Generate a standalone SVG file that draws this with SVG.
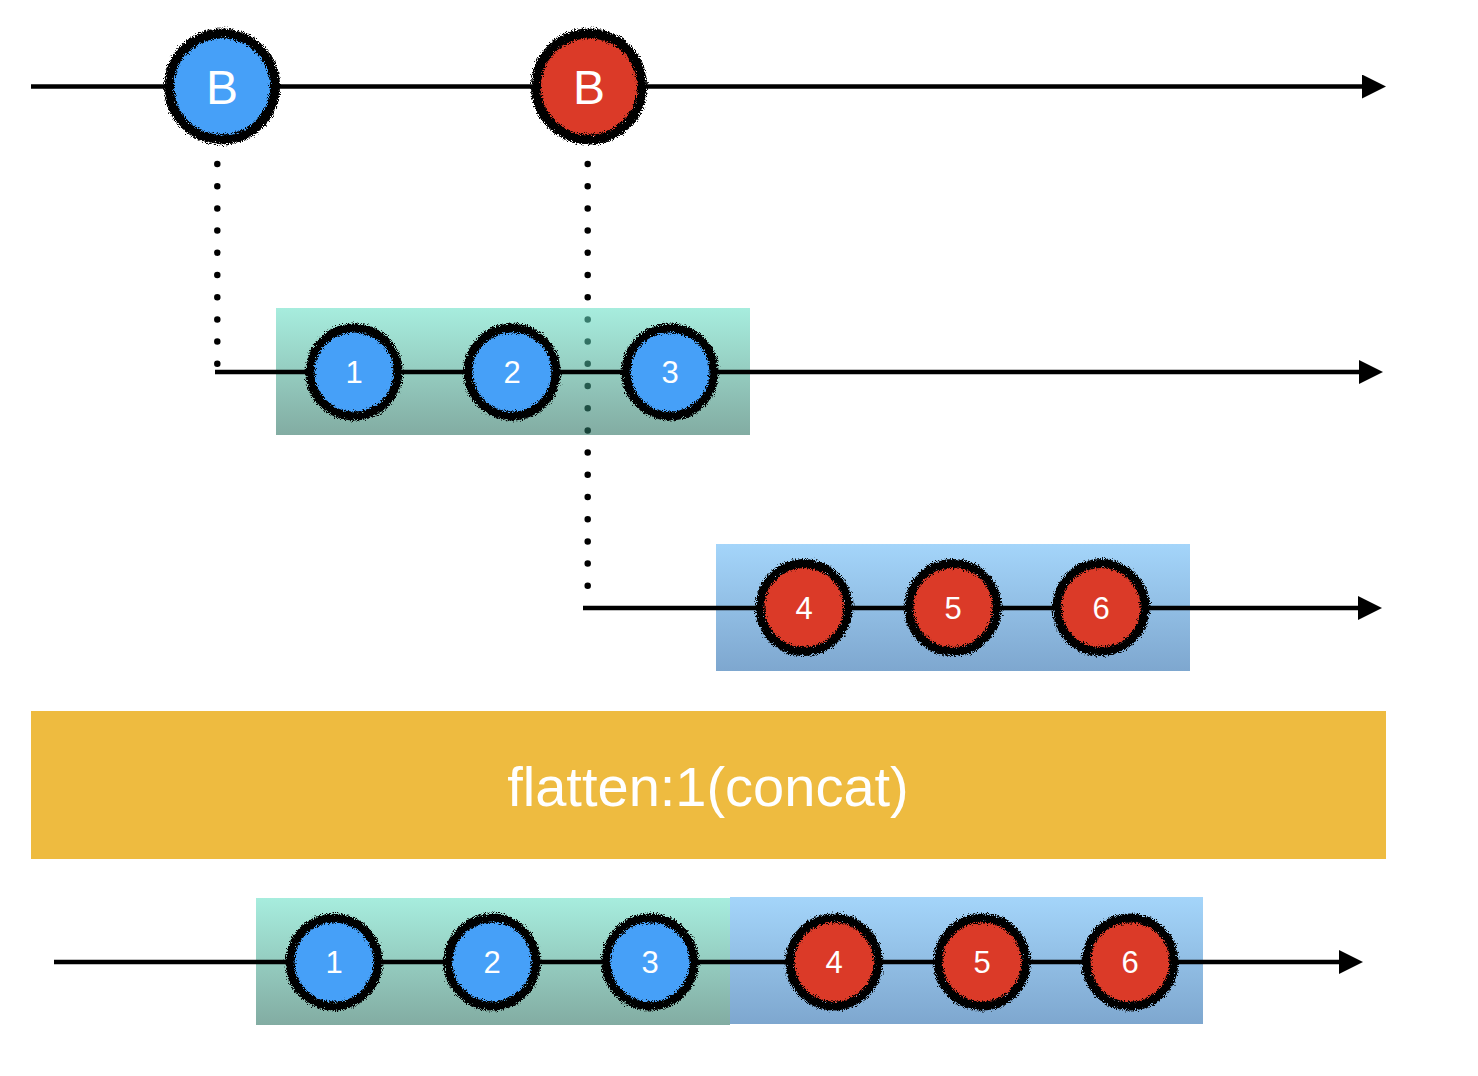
<svg xmlns="http://www.w3.org/2000/svg" width="1478" height="1076" viewBox="0 0 1478 1076">
<defs>
  <linearGradient id="gGreen" x1="0" y1="0" x2="0" y2="1">
    <stop offset="0" stop-color="#67e0c6"/>
    <stop offset="1" stop-color="#28705f"/>
  </linearGradient>
  <linearGradient id="gBlue" x1="0" y1="0" x2="0" y2="1">
    <stop offset="0" stop-color="#a4d5fa"/>
    <stop offset="1" stop-color="#7ea7cf"/>
  </linearGradient>
  <filter id="rough" x="-20%" y="-20%" width="140%" height="140%">
    <feTurbulence type="fractalNoise" baseFrequency="1.1" numOctaves="2" seed="3" result="n"/>
    <feDisplacementMap in="SourceGraphic" in2="n" scale="8" xChannelSelector="R" yChannelSelector="G"/>
  </filter>
  <marker id="arrow" viewBox="0 0 24 24" refX="0" refY="12" markerWidth="24" markerHeight="24" markerUnits="userSpaceOnUse" orient="auto">
    <path d="M0,0 L24,12 L0,24 Z" fill="#000"/>
  </marker>
</defs>
<style>
  .line { stroke:#000; stroke-width:4.5; fill:none; }
  .dots { stroke:#000; stroke-width:6.5; stroke-linecap:round; stroke-dasharray:0 22.2; fill:none; }
  .ring { fill:none; stroke:#000; filter:url(#rough); }
  .blue { fill:#46a0f8; }
  .red { fill:#db3a28; }
  .lbl { fill:#fff; font-family:"Liberation Sans", Arial, Helvetica, sans-serif; text-anchor:middle; }
  .big { font-size:48px; }
  .small { font-size:31px; }
  .title { fill:#fff; font-family:"Liberation Sans", Arial, Helvetica, sans-serif; font-size:56px; text-anchor:middle; }
</style>

<g id="connectors">
  <line class="dots" x1="217.3" y1="164" x2="217.3" y2="366"/>
  <line class="dots" x1="587.7" y1="164" x2="587.7" y2="588"/>
</g>

<g id="box-green-2"><rect x="276" y="308" width="474" height="127" fill="url(#gGreen)" opacity="0.58"/></g>
<g id="box-blue-3"><rect x="716" y="544" width="474" height="127" fill="url(#gBlue)"/></g>
<g id="box-green-out"><rect x="256" y="898" width="474" height="127" fill="url(#gGreen)" opacity="0.58"/></g>
<g id="box-blue-out"><rect x="730" y="897" width="473" height="127" fill="url(#gBlue)"/></g>

<g id="timelines">
  <line class="line" x1="31" y1="86.5" x2="1362" y2="86.5" marker-end="url(#arrow)"/>
  <line class="line" x1="215" y1="372" x2="1359" y2="372" marker-end="url(#arrow)"/>
  <line class="line" x1="583" y1="608" x2="1358" y2="608" marker-end="url(#arrow)"/>
  <line class="line" x1="54" y1="962" x2="1339" y2="962" marker-end="url(#arrow)"/>
</g>

<g id="operator">
  <rect x="31" y="711" width="1355" height="148" fill="#eebb40"/>
  <text class="title" x="708" y="806">flatten:1(concat)</text>
</g>

<g id="node-B-blue">
  <circle class="blue" cx="222" cy="86.5" r="50"/>
  <circle class="ring" cx="222" cy="86.5" r="53" stroke-width="10"/>
  <text class="lbl big" x="222" y="104">B</text>
</g>
<g id="node-B-red">
  <circle class="red" cx="589" cy="86.5" r="50"/>
  <circle class="ring" cx="589" cy="86.5" r="53" stroke-width="10"/>
  <text class="lbl big" x="589" y="104">B</text>
</g>

<g id="node-r2-1">
  <circle class="blue" cx="354" cy="372" r="41"/>
  <circle class="ring" cx="354" cy="372" r="44" stroke-width="9"/>
  <text class="lbl small" x="354" y="383">1</text>
</g>
<g id="node-r2-2">
  <circle class="blue" cx="512" cy="372" r="41"/>
  <circle class="ring" cx="512" cy="372" r="44" stroke-width="9"/>
  <text class="lbl small" x="512" y="383">2</text>
</g>
<g id="node-r2-3">
  <circle class="blue" cx="670" cy="372" r="41"/>
  <circle class="ring" cx="670" cy="372" r="44" stroke-width="9"/>
  <text class="lbl small" x="670" y="383">3</text>
</g>

<g id="node-r3-4">
  <circle class="red" cx="804" cy="607.5" r="41"/>
  <circle class="ring" cx="804" cy="607.5" r="44" stroke-width="9"/>
  <text class="lbl small" x="804" y="618.5">4</text>
</g>
<g id="node-r3-5">
  <circle class="red" cx="953" cy="607.5" r="41"/>
  <circle class="ring" cx="953" cy="607.5" r="44" stroke-width="9"/>
  <text class="lbl small" x="953" y="618.5">5</text>
</g>
<g id="node-r3-6">
  <circle class="red" cx="1101" cy="607.5" r="41"/>
  <circle class="ring" cx="1101" cy="607.5" r="44" stroke-width="9"/>
  <text class="lbl small" x="1101" y="618.5">6</text>
</g>

<g id="node-out-1">
  <circle class="blue" cx="334" cy="962" r="41"/>
  <circle class="ring" cx="334" cy="962" r="44" stroke-width="9"/>
  <text class="lbl small" x="334" y="973">1</text>
</g>
<g id="node-out-2">
  <circle class="blue" cx="492" cy="962" r="41"/>
  <circle class="ring" cx="492" cy="962" r="44" stroke-width="9"/>
  <text class="lbl small" x="492" y="973">2</text>
</g>
<g id="node-out-3">
  <circle class="blue" cx="650" cy="962" r="41"/>
  <circle class="ring" cx="650" cy="962" r="44" stroke-width="9"/>
  <text class="lbl small" x="650" y="973">3</text>
</g>
<g id="node-out-4">
  <circle class="red" cx="834" cy="962" r="41"/>
  <circle class="ring" cx="834" cy="962" r="44" stroke-width="9"/>
  <text class="lbl small" x="834" y="973">4</text>
</g>
<g id="node-out-5">
  <circle class="red" cx="982" cy="962" r="41"/>
  <circle class="ring" cx="982" cy="962" r="44" stroke-width="9"/>
  <text class="lbl small" x="982" y="973">5</text>
</g>
<g id="node-out-6">
  <circle class="red" cx="1130" cy="962" r="41"/>
  <circle class="ring" cx="1130" cy="962" r="44" stroke-width="9"/>
  <text class="lbl small" x="1130" y="973">6</text>
</g>
</svg>
